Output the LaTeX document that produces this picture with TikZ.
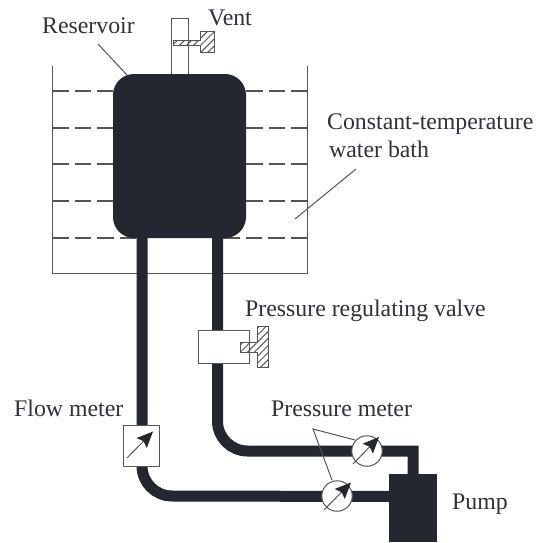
\documentclass[tikz,border=0pt]{standalone}
\usepackage{fontspec}
\setmainfont{Liberation Serif}
\usetikzlibrary{patterns.meta,arrows.meta}
\definecolor{ink}{HTML}{23272F}
\definecolor{wire}{HTML}{555555}
\definecolor{txt}{HTML}{2E323C}
\tikzset{
 x=1pt,y=-1pt,
 lbl/.style={font=\fontsize{23.8}{28}\selectfont,text=txt,inner sep=0pt,anchor=base west},
 thinline/.style={draw=wire,line width=1pt},
 level/.style={draw=wire,line width=1.4pt,dash pattern=on 16.5pt off 6pt},
 pipe/.style={draw=ink,line width=11pt,line join=miter},
 hatchbox/.style={draw=wire,line width=1pt,pattern={Lines[angle=45,distance=5pt,line width=1pt]},pattern color=wire},
 gaugeface/.style={draw=wire,line width=1pt,fill=white,circle,minimum size=30.5pt,inner sep=0pt},
 needle/.style={draw=wire,line width=1pt,-{Stealth[length=16pt,width=14pt,inset=2.5pt,color=ink]}},
}
\begin{document}
\begin{tikzpicture}
\useasboundingbox (0,0) rectangle (536,543);
\fill[white] (0,0) rectangle (536,543);
% bath
\draw[thinline] (52,65.5) -- (52,273) -- (307,273) -- (307,65.5);
\foreach \y in {91,128,164,201}{
  \draw[level] (52,\y) -- (113,\y);
  \draw[level] (246,\y) -- (307,\y);
}
\draw[level] (52,238) -- (137,238);
\draw[level] (307,238) -- (223,238);
% pipes
\draw[pipe] (142,225) -- (142,466) arc[start angle=180,end angle=90,radius=30] -- (395,496.5);
\draw[pipe] (217.5,225) -- (217.5,421) arc[start angle=180,end angle=90,radius=30] -- (413,451) -- (413,480);
% vent
\draw[thinline,fill=white] (171,76) -- (171,18.5) -- (188,18.5) -- (188,76);
\draw[hatchbox] (173,41) -- (200,41) -- (200,32) -- (214,32) -- (214,53) -- (200,53) -- (200,45.5) -- (173,45.5) -- cycle;
% reservoir
\node[fill=ink,rounded corners=21pt,minimum width=133pt,minimum height=164pt,inner sep=0pt] (res) at (179.5,156) {};
% pump
\node[fill=ink,minimum width=48pt,minimum height=68pt,inner sep=0pt] (pump) at (413,508) {};
% valve
\node[draw=wire,line width=1pt,fill=white,minimum width=51pt,minimum height=33pt,inner sep=0pt] (valve) at (223.5,346.5) {};
\draw[hatchbox] (240,342) -- (257,342) -- (257,326) -- (268,326) -- (268,367) -- (257,367) -- (257,352) -- (240,352) -- cycle;
% flow meter
\node[draw=wire,line width=1pt,fill=white,minimum width=36pt,minimum height=41pt,inner sep=0pt] (flow) at (141,445.5) {};
\draw[needle] (127,458) -- (153,431.5);
% gauges
\node[gaugeface] (g1) at (367,451) {};
\node[gaugeface] (g2) at (337,496) {};
\draw[needle] (353,464) -- (379,437);
\draw[needle] (324,510) -- (351,482.5);
% labels
\node[lbl] (t1) at (42,34) {Reservoir};
\node[lbl] (t2) at (208,26) {Vent};
\node[lbl] (t3) at (327,129) {Constant-temperature};
\node[lbl] (t4) at (329,157) {water bath};
\node[lbl] (t5) at (245,316) {Pressure regulating valve};
\node[lbl] (t6) at (14,416) {Flow meter};
\node[lbl] (t7) at (271,416) {Pressure meter};
\node[lbl] (t8) at (452,509) {Pump};
% leaders
\coordinate (resend) at (127,75);
\coordinate (resstart) at (98,44);
\coordinate (bathstart) at (356,169);
\coordinate (bathend) at (295,219);
\coordinate (apex) at (313,429);
\coordinate (g1end) at (355,440);
\coordinate (g2end) at (332,480);
\draw[thinline] (resstart) -- (resend);
\draw[thinline] (bathstart) -- (bathend);
\draw[thinline] (g1end) -- (apex) -- (g2end);
\end{tikzpicture}
\end{document}
